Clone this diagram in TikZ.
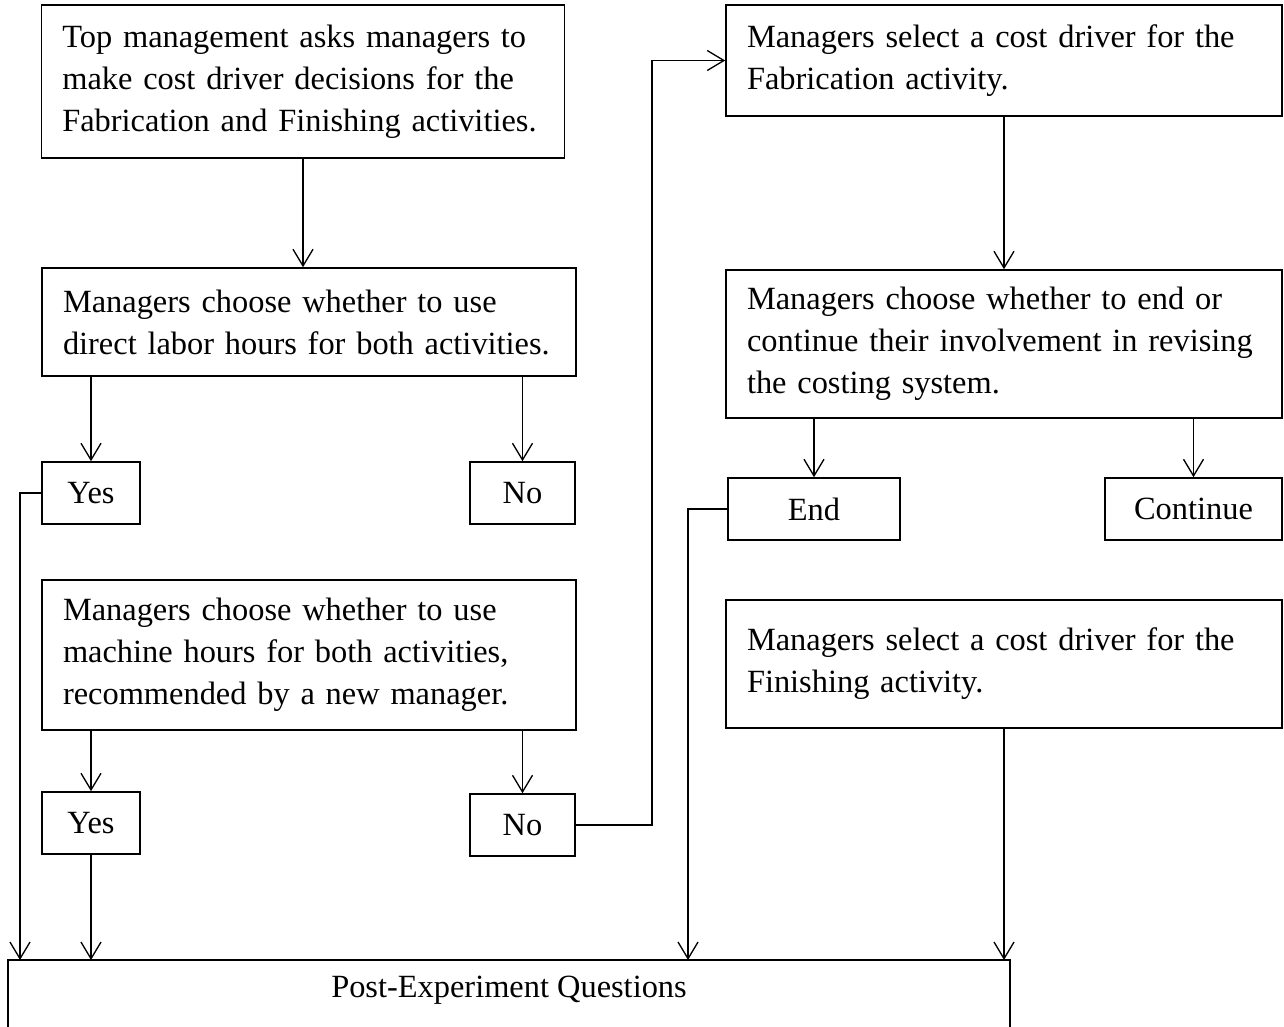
\documentclass[tikz,border=0pt]{standalone}
\usepackage{fontspec}
\setmainfont{Liberation Serif}
\usetikzlibrary{arrows.meta}
\begin{document}
\begin{tikzpicture}[x=0.75pt,y=-0.75pt,
  font=\fontsize{24.3}{31.5}\selectfont,
  boxline/.style={draw, line width=1.2pt},
  tbox/.style={boxline, rectangle, inner xsep=15.75pt, inner ysep=0pt, align=left},
  sbox/.style={boxline, rectangle, inner sep=0pt, minimum height=46.5pt},
  arr/.style={line width=1pt, -{Straight Barb[length=12.5pt,width=15pt,line width=1pt]}},
  conn/.style={line width=1pt}]
\path[clip] (0,0) rectangle (1284,1027);
\fill[white] (0,0) rectangle (1284,1027);

% left column
\node[tbox, text width=361pt, minimum height=114.75pt] (box1) at (303,81.5)
  {Top management asks managers to\\make cost driver decisions for the\\Fabrication and Finishing activities.};
\node[tbox, text width=369pt, minimum height=81pt] (box2) at (309,322)
  {Managers choose whether to use\\direct labor hours for both activities.};
\node[sbox, minimum width=73.5pt] (yes1) at (91,493) {Yes};
\node[sbox, minimum width=78.75pt] (no1) at (522.5,493) {No};
\node[tbox, text width=369pt, minimum height=112.5pt] (box3) at (309,655)
  {Managers choose whether to use\\machine hours for both activities,\\recommended by a new manager.};
\node[sbox, minimum width=73.5pt] (yes2) at (91,823) {Yes};
\node[sbox, minimum width=78.75pt] (no2) at (522.5,825) {No};

% right column
\node[tbox, text width=385.5pt, minimum height=83.25pt] (box4) at (1004,60.5)
  {Managers select a cost driver for the\\Fabrication activity.};
\node[tbox, text width=385.5pt, minimum height=111pt] (box5) at (1004,344)
  {Managers choose whether to end or\\continue their involvement in revising\\the costing system.};
\node[sbox, minimum width=129pt] (end) at (814,509) {End};
\node[sbox, minimum width=132.75pt] (cont) at (1193.5,509) {Continue};
\node[tbox, text width=385.5pt, minimum height=96pt] (box6) at (1004,664)
  {Managers select a cost driver for the\\Finishing activity.};

% bottom box (cut off at the bottom)
\node[inner sep=0pt, minimum width=751.5pt, minimum height=45pt, anchor=north] (post) at (509,960)
  {Post-Experiment Questions};
\draw[boxline] (post.north west) ++(0,120) -- (post.north west) -- (post.north east) -- ++(0,120);

% junction coordinates
\coordinate (j1) at (652,0);
\coordinate (j2) at (688,0);
\coordinate (j3) at (20,0);

% connectors
\draw[arr] (box1.south) -- (box1.south |- box2.north);
\draw[arr] (yes1 |- box2.south) -- (yes1.north);
\draw[arr] (no1 |- box2.south) -- (no1.north);
\draw[arr] (yes2 |- box3.south) -- (yes2.north);
\draw[arr] (no2 |- box3.south) -- (no2.north);
\draw[arr] (no2.east) -- (no2.east -| j1) -- (j1 |- box4.west) -- (box4.west);
\draw[arr] (box4.south) -- (box4.south |- box5.north);
\draw[arr] (end |- box5.south) -- (end.north);
\draw[arr] (cont |- box5.south) -- (cont.north);
\draw[arr] (yes1.west) -- (yes1.west -| j3) -- (j3 |- post.north);
\draw[arr] (yes2.south) -- (yes2 |- post.north);
\draw[arr] (end.west) -- (end.west -| j2) -- (j2 |- post.north);
\draw[arr] (box6.south) -- (box6.south |- post.north);
\end{tikzpicture}
\end{document}
